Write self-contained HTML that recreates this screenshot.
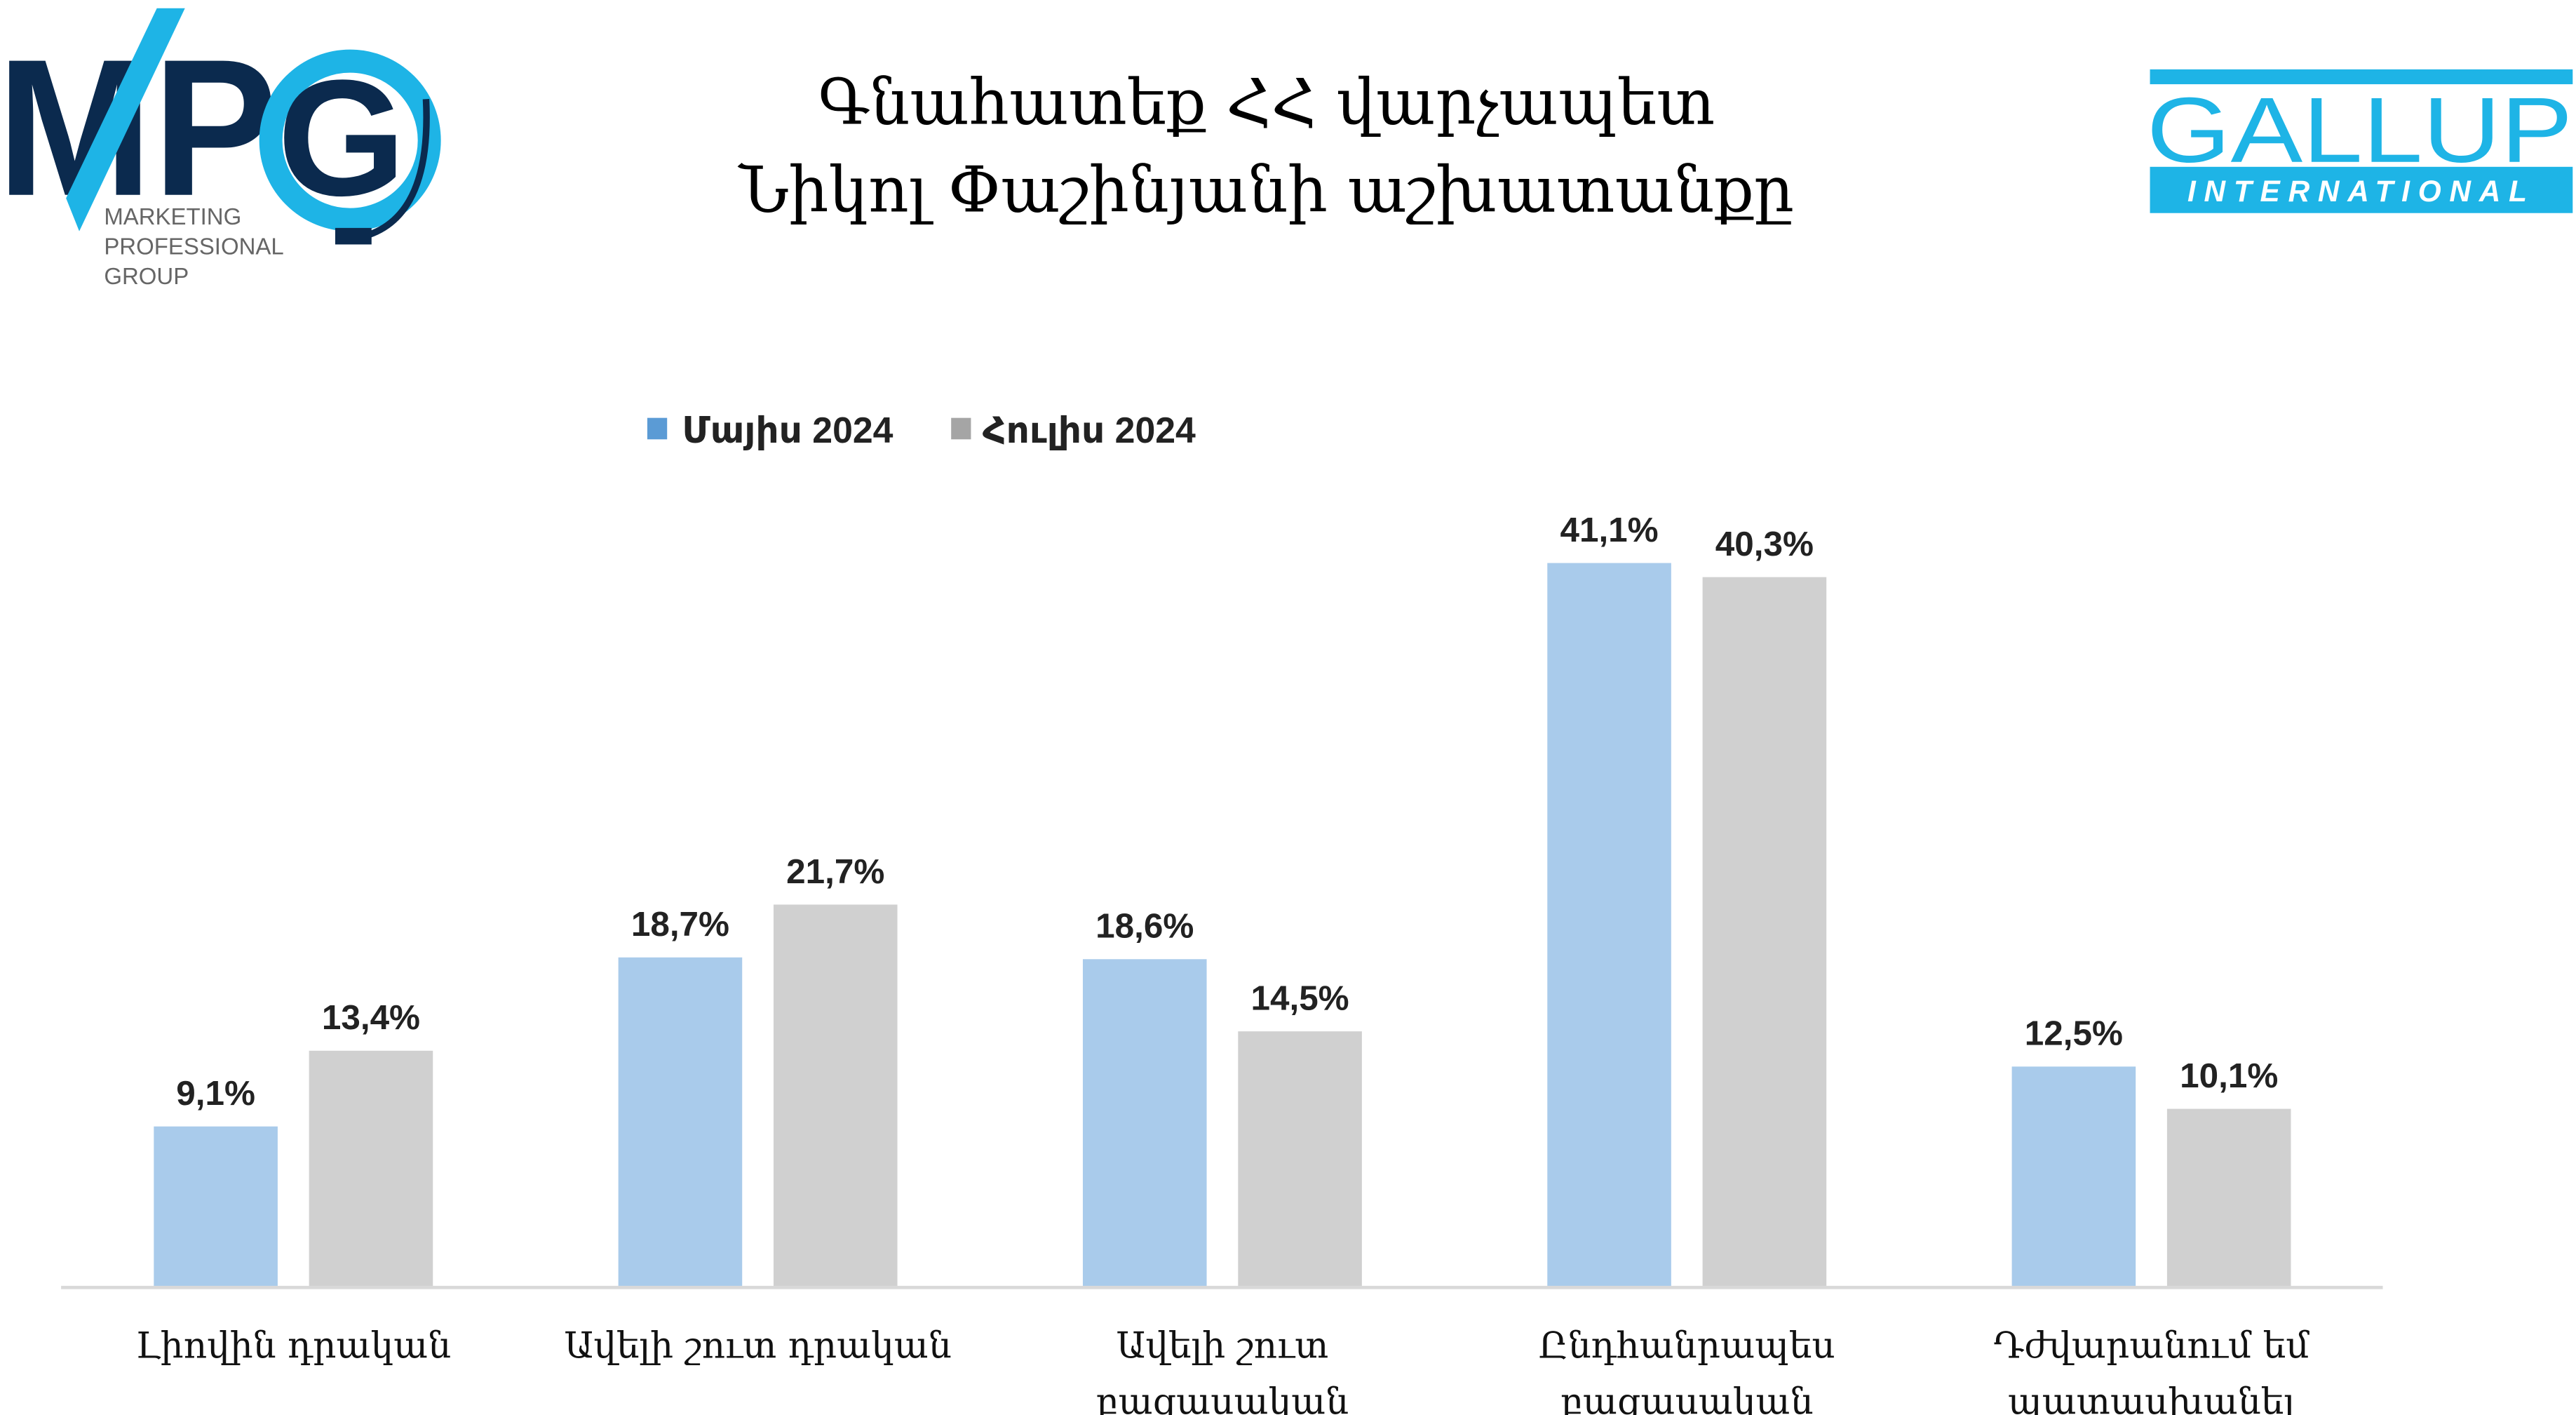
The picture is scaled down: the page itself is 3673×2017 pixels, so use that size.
<!DOCTYPE html>
<html><head><meta charset="utf-8"><style>
html,body{margin:0;padding:0;background:#fff;}
svg{display:block;}
</style></head><body>
<svg id="chart" width="3673" height="2017" viewBox="0 0 1560 856.7" preserveAspectRatio="none" xmlns="http://www.w3.org/2000/svg">
<rect width="1560" height="857" fill="#fff"/>
<g>
  <text x="-2" y="118" font-family="Liberation Sans, sans-serif" font-weight="bold" font-size="118" fill="#0B2A4E" textLength="170" lengthAdjust="spacingAndGlyphs">MP</text>
  <polygon points="40,120 95,5 112,5 48,140" fill="#1EB4E6"/>
  <circle cx="212" cy="85" r="48" fill="none" stroke="#1EB4E6" stroke-width="14"/>
  <text x="168" y="118" font-family="Liberation Sans, sans-serif" font-weight="bold" font-size="100" fill="#0B2A4E">G</text>
  <path d="M258,60 Q262,140 210,145" fill="none" stroke="#0B2A4E" stroke-width="4"/>
  <rect x="203" y="138" width="22" height="10" fill="#0B2A4E"/>
  <text x="63" y="136" font-family="Liberation Sans, sans-serif" font-size="14" fill="#666">MARKETING</text>
  <text x="63" y="154" font-family="Liberation Sans, sans-serif" font-size="14" fill="#666">PROFESSIONAL</text>
  <text x="63" y="172" font-family="Liberation Sans, sans-serif" font-size="14" fill="#666">GROUP</text>
</g>
<g>
  <rect x="1302" y="42" width="256" height="9" fill="#1EB4E6"/>
  <text x="1300" y="98" font-family="Liberation Sans, sans-serif" font-size="56" fill="#1EB4E6" textLength="258" lengthAdjust="spacingAndGlyphs">GALLUP</text>
  <rect x="1302" y="101" width="256" height="28" fill="#1EB4E6"/>
  <text x="1430" y="122" text-anchor="middle" font-family="Liberation Sans, sans-serif" font-weight="bold" font-style="italic" font-size="18" fill="#fff" letter-spacing="5">INTERNATIONAL</text>
</g>
<g font-family="DejaVu Serif, serif" font-size="38" fill="#000" text-anchor="middle">
  <text x="767" y="75">Գնահատեք ՀՀ վարչապետ</text>
  <text x="767" y="128">Նիկոլ Փաշինյանի աշխատանքը</text>
</g>
<g font-family="Liberation Sans, DejaVu Sans, sans-serif" font-weight="bold" font-size="22" fill="#222">
  <rect x="392" y="253" width="12" height="13" fill="#5B9BD5"/>
  <text x="413" y="268">Մայիս 2024</text>
  <rect x="576" y="253" width="12" height="13" fill="#A5A5A5"/>
  <text x="595" y="268">Հուլիս 2024</text>
</g>
<g id="bars"></g>
<line x1="37" y1="779.5" x2="1443" y2="779.5" stroke="#D9D9D9" stroke-width="2"/>
<g id="cats"></g>
</svg>
<script>
const categories = [["Լիովին դրական"], ["Ավելի շուտ դրական"], ["Ավելի շուտ", "բացասական"], ["Ընդհանրապես", "բացասական"], ["Դժվարանում եմ", "պատասխանել"]];
const mayValues = [9.1, 18.7, 18.6, 41.1, 12.5];
const julyValues = [13.4, 21.7, 14.5, 40.3, 10.1];
const mayLabels = ["9,1%", "18,7%", "18,6%", "41,1%", "12,5%"];
const julyLabels = ["13,4%", "21,7%", "14,5%", "40,3%", "10,1%"];

const NS = "http://www.w3.org/2000/svg";
const baseY = 779, pxPer = 10.66, groupStart = 37, groupW = 281.3, barW = 75, gap = 19;
function yScale(v){ return baseY - v * pxPer; }
function groupCenter(i){ return groupStart + groupW * (i + 0.5); }
const bars = document.getElementById('bars');
const cats = document.getElementById('cats');
function mk(tag, attrs){ const e = document.createElementNS(NS, tag); for (const k in attrs) e.setAttribute(k, attrs[k]); return e; }
const series = [[mayValues, mayLabels, "#A9CBEB", "may"], [julyValues, julyLabels, "#D0D0D0", "july"]];
categories.forEach((c, i) => {
  const gc = groupCenter(i);
  series.forEach((s, j) => {
    const x = j === 0 ? gc - gap/2 - barW : gc + gap/2;
    const y = yScale(s[0][i]);
    const r = mk('rect', {x: x, y: y, width: barW, height: baseY - y, fill: s[2]});
    
    
    bars.appendChild(r);
    const t = mk('text', {x: x + barW/2, y: y - 13, 'text-anchor': 'middle', 'font-family': 'Liberation Sans, sans-serif', 'font-weight': 'bold', 'font-size': '21', fill: '#222'});
    t.textContent = s[1][i];
    
    
    bars.appendChild(t);
  });
  c.forEach((line, k) => {
    const t = mk('text', {x: gc, y: 822 + k * 34, 'text-anchor': 'middle', 'font-family': 'DejaVu Serif, serif', 'font-size': '22', fill: '#111'});
    t.textContent = line;
    
    
    cats.appendChild(t);
  });
});
</script>
</body></html>
